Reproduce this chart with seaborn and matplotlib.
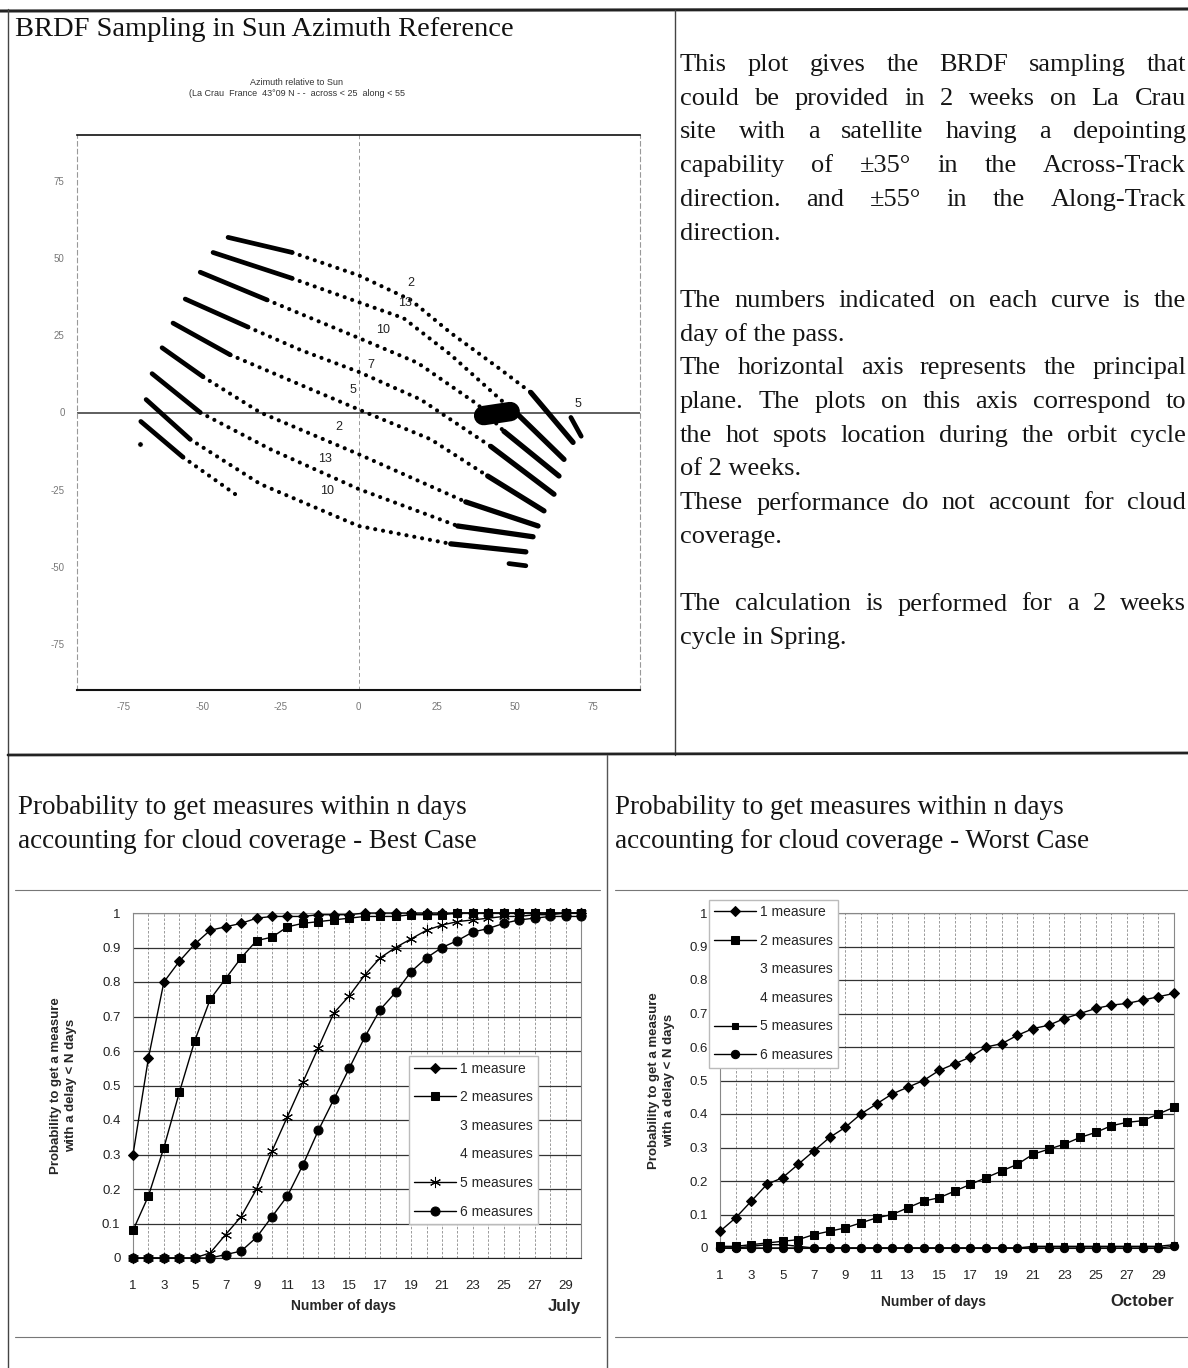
import matplotlib
matplotlib.use("Agg")
import matplotlib.pyplot as plt
import seaborn as sns
from matplotlib.lines import Line2D

W, H = 1188, 1368

# ---------------- BRDF sampling passes (azimuth relative to sun, deg) ----------------
# first two points = thick lead-in, last two = thick tail, points between are dotted
pass_x = [
    [-41.7, -21.2, 0.0, 16.7, 29.5, 45.5, 55.1, 68.6],
    [-46.5, -21.2, 0.0, 14.4, 29.5, 46.5, 50.3, 65.7],
    [-50.6, -29.2, 0.0, 18.9, 38.1, 46.5, 64.1],
    [-55.4, -35.3, -18.6, 0.0, 19.9, 42.3, 62.5],
    [-59.3, -41.0, -18.6, 0.0, 23.1, 41.3, 59.3],
    [-62.8, -49.7, -31.4, 0.0, 34.3, 57.4],
    [-66.0, -50.6, -28.2, 0.0, 31.7, 55.8],
    [-67.9, -53.8, -31.4, 0.0, 29.5, 53.5],
    [-69.6, -56.1, -39.4],
]
pass_y = [
    [56.8, 51.9, 44.5, 36.5, 25.8, 13.9, 6.5, -9.7],
    [51.9, 43.5, 35.8, 30.6, 18.7, 3.2, 0.0, -15.2],
    [45.5, 36.5, 24.2, 16.1, 2.6, -6.1, -20.6],
    [36.8, 27.7, 20.3, 13.2, 4.2, -11.0, -26.5],
    [29.0, 18.7, 9.0, 1.0, -8.7, -20.6, -31.9],
    [21.0, 11.6, 0.0, -13.5, -29.0, -36.8],
    [12.6, 0.0, -11.9, -24.8, -36.8, -40.3],
    [4.2, -8.7, -23.2, -36.8, -42.6, -45.2],
    [-2.9, -14.5, -26.5],
]
pass_has_tail = [True, True, True, True, True, True, True, True, False]

stub_x = [[67.9, 71.2], [48.1, 53.5]]
stub_y = [[-1.6, -7.7], [-49.0, -49.7]]
hotspot_x = [40.0, 48.5]
hotspot_y = [-1.0, 0.3]
lone_x = [-69.9]
lone_y = [-10.3]

day_text = ["2", "13", "10", "7", "5", "5", "2", "13", "10"]
day_x = [16.7, 15.0, 8.0, 3.8, -1.9, 70.2, -6.4, -10.6, -9.9]
day_y = [41.9, 35.5, 26.8, 15.5, 7.4, 2.6, -4.8, -15.2, -25.5]

azi_ticks = [-75, -50, -25, 0, 25, 50, 75]

# ---------------- probability curves ----------------
days = list(range(1, 31))
best_1 = [0.30, 0.58, 0.80, 0.86, 0.91, 0.95, 0.96, 0.97, 0.985, 0.99,
          0.99, 0.99, 0.995, 0.995, 0.995, 1.0, 1.0, 1.0, 1.0, 1.0,
          1.0, 1.0, 1.0, 1.0, 1.0, 1.0, 1.0, 1.0, 1.0, 1.0]
best_2 = [0.08, 0.18, 0.32, 0.48, 0.63, 0.75, 0.81, 0.87, 0.92, 0.93,
          0.96, 0.97, 0.975, 0.98, 0.985, 0.99, 0.99, 0.99, 0.995, 0.995,
          0.995, 1.0, 1.0, 1.0, 1.0, 1.0, 1.0, 1.0, 1.0, 1.0]
best_5 = [0.0, 0.0, 0.0, 0.0, 0.0, 0.015, 0.068, 0.12, 0.20, 0.31,
          0.41, 0.51, 0.61, 0.71, 0.76, 0.82, 0.87, 0.90, 0.925, 0.95,
          0.965, 0.975, 0.98, 0.985, 0.99, 0.99, 0.995, 0.995, 1.0, 1.0]
best_6 = [0.0, 0.0, 0.0, 0.0, 0.0, 0.0, 0.01, 0.02, 0.06, 0.12,
          0.18, 0.27, 0.37, 0.46, 0.55, 0.64, 0.72, 0.77, 0.83, 0.87,
          0.90, 0.92, 0.945, 0.955, 0.97, 0.98, 0.985, 0.99, 0.99, 0.99]

worst_1 = [0.05, 0.09, 0.14, 0.19, 0.21, 0.25, 0.29, 0.33, 0.36, 0.40,
           0.43, 0.46, 0.48, 0.50, 0.53, 0.55, 0.57, 0.60, 0.61, 0.635,
           0.655, 0.665, 0.685, 0.70, 0.715, 0.725, 0.73, 0.74, 0.75, 0.76]
worst_2 = [0.005, 0.005, 0.01, 0.015, 0.02, 0.025, 0.04, 0.05, 0.06, 0.075,
           0.09, 0.10, 0.12, 0.14, 0.15, 0.17, 0.19, 0.21, 0.23, 0.25,
           0.28, 0.295, 0.31, 0.33, 0.345, 0.365, 0.375, 0.38, 0.40, 0.42]
worst_5 = [0.0, 0.0, 0.005, 0.01, 0.01, 0.005, 0.0, 0.0, 0.0, 0.0,
           0.0, 0.0, 0.0, 0.0, 0.0, 0.0, 0.0, 0.0, 0.0, 0.0,
           0.005, 0.005, 0.005, 0.005, 0.005, 0.005, 0.005, 0.005, 0.005, 0.01]
worst_6 = [0.0, 0.0, 0.0, 0.0, 0.0, 0.0, 0.0, 0.0, 0.0, 0.0,
           0.0, 0.0, 0.0, 0.0, 0.0, 0.0, 0.0, 0.0, 0.0, 0.0,
           0.0, 0.0, 0.0, 0.0, 0.0, 0.0, 0.0, 0.0, 0.0, 0.005]

prob_ticks = [0, 0.1, 0.2, 0.3, 0.4, 0.5, 0.6, 0.7, 0.8, 0.9, 1]
prob_labels = ["0", "0.1", "0.2", "0.3", "0.4", "0.5", "0.6", "0.7", "0.8", "0.9", "1"]

# ---------------- page text ----------------
notes = [
    "This plot gives the BRDF sampling that",
    "could be provided in 2 weeks on La Crau",
    "site with a satellite having a depointing",
    "capability of \u00b135\u00b0 in the Across-Track",
    "direction. and \u00b155\u00b0 in the Along-Track",
    "direction.",
    "",
    "The numbers indicated on each curve is the",
    "day of the pass.",
    "The horizontal axis represents the principal",
    "plane. The plots on this axis correspond to",
    "the hot spots location during the orbit cycle",
    "of 2 weeks.",
    "These performance do not account for cloud",
    "coverage.",
    "",
    "The calculation is performed for a 2 weeks",
    "cycle in Spring.",
]
notes_justified = [True, True, True, True, True, False, False, True, False,
                   True, True, True, False, True, False, False, True, False]

sns.set_style("white")
plt.rcParams["font.family"] = ["Liberation Sans", "DejaVu Sans"]
plt.rcParams["axes.unicode_minus"] = False
SERIF = ["Liberation Serif", "DejaVu Serif"]

fig = plt.figure(figsize=(W / 100, H / 100), dpi=100)


def fx(x):
    return x / W


def fy(y):
    return 1 - y / H


def rule(x0, y0, x1, y1, lw=1.0, color="#222222"):
    fig.add_artist(Line2D([fx(x0), fx(x1)], [fy(y0), fy(y1)], lw=lw, color=color,
                          transform=fig.transFigure))


# page frame
rule(0, 11, W, 9, lw=2.2)
rule(8, 9, 8, H, lw=1.0, color="#444444")
rule(675, 10, 675, 755, lw=1.0, color="#444444")
rule(8, 755, W, 753, lw=2.0)
rule(607, 755, 607, H, lw=1.0, color="#555555")
rule(15, 890, 600, 890, lw=0.8, color="#777777")
rule(615, 890, W, 890, lw=0.8, color="#777777")
rule(15, 1337, 600, 1337, lw=0.8, color="#777777")
rule(615, 1337, W, 1337, lw=0.8, color="#777777")

fig.text(fx(15), fy(30), "BRDF Sampling in Sun Azimuth Reference", family=SERIF,
         fontsize=20.5, va="center", ha="left", color="#111111")

renderer = fig.canvas.get_renderer()
for i, (line, just) in enumerate(zip(notes, notes_justified)):
    if not line:
        continue
    y = 65 + i * 33.7
    kw = dict(family=SERIF, fontsize=19, va="center", ha="left", color="#151515")
    if not just:
        fig.text(fx(680), fy(y), line, **kw)
        continue
    words = line.split()
    arts = [fig.text(0, fy(y), w, **kw) for w in words]
    widths = [a.get_window_extent(renderer).width for a in arts]
    gap = max((1186 - 680 - sum(widths)) / (len(words) - 1), 4)
    x = 680
    for a, w in zip(arts, widths):
        a.set_x(fx(x))
        x += w + gap

for x0, side in [(18, "Best Case"), (615, "Worst Case")]:
    fig.text(fx(x0), fy(808), "Probability to get measures within n days", family=SERIF,
             fontsize=19.5, va="center", ha="left", color="#151515")
    fig.text(fx(x0), fy(842), f"accounting for cloud coverage - {side}", family=SERIF,
             fontsize=19.5, va="center", ha="left", color="#151515")

# ---------------- BRDF panel ----------------
ax = fig.add_axes([fx(77), fy(690), (640 - 77) / W, (690 - 135) / H])
ax.set_xlim(-90, 90)
ax.set_ylim(-90, 90)
ax.axvline(0, color="#999999", lw=0.7, ls=(0, (4, 3)))
ax.axhline(0, color="#333333", lw=1.1)
for xs, ys, tail in zip(pass_x, pass_y, pass_has_tail):
    sns.lineplot(x=xs[:2], y=ys[:2], sort=False, estimator=None, color="k", lw=3.4,
                 solid_capstyle="round", ax=ax)
    mid_end = len(xs) - 1 if tail else len(xs)
    sns.lineplot(x=xs[1:mid_end], y=ys[1:mid_end], sort=False, estimator=None, color="k",
                 lw=3.0, linestyle=(0, (0.01, 1.9)), dash_capstyle="round", ax=ax)
    if tail:
        sns.lineplot(x=xs[-2:], y=ys[-2:], sort=False, estimator=None, color="k", lw=3.8,
                     solid_capstyle="round", ax=ax)
for xs, ys in zip(stub_x, stub_y):
    sns.lineplot(x=xs, y=ys, sort=False, estimator=None, color="k", lw=3.4,
                 solid_capstyle="round", ax=ax)
sns.lineplot(x=hotspot_x, y=hotspot_y, sort=False, estimator=None, color="k", lw=14,
             solid_capstyle="round", ax=ax)
sns.scatterplot(x=lone_x, y=lone_y, color="k", s=14, ax=ax)
for t, x, y in zip(day_text, day_x, day_y):
    ax.text(x, y, t, fontsize=9, ha="center", va="center", color="#222222")
ax.set_xticks(azi_ticks)
ax.set_yticks(azi_ticks)
ax.tick_params(labelsize=7, colors="#777777", length=3, width=0.6, direction="out", pad=6)
for s in ("left", "right"):
    ax.spines[s].set_color("#999999")
    ax.spines[s].set_linestyle((0, (4, 3)))
    ax.spines[s].set_linewidth(0.8)
ax.spines["top"].set_color("#111111")
ax.spines["top"].set_linewidth(1.2)
ax.spines["bottom"].set_color("#111111")
ax.spines["bottom"].set_linewidth(1.5)
ax.text(0.39, 1.095, "Azimuth relative to Sun", transform=ax.transAxes, fontsize=6.5,
        ha="center", va="center", color="#333333")
ax.text(0.39, 1.075, "(La Crau  France  43\u00b009 N - -  across < 25  along < 55",
        transform=ax.transAxes, fontsize=6.5, ha="center", va="center", color="#333333")
ax.set_xlabel("")
ax.set_ylabel("")


# ---------------- probability panels ----------------
def prob_panel(rect, series, markers, sizes, month, legend_anchor, ylab_x, xlab_y):
    a = fig.add_axes(rect)
    a.set_xlim(1, 30)
    a.set_ylim(0, 1)
    a.set_xticks(days)
    a.set_xticklabels([str(d) if d % 2 else "" for d in days])
    a.set_yticks(prob_ticks)
    a.set_yticklabels(prob_labels)
    for d in days:
        a.axvline(d, color="#8a8a8a", lw=0.6, ls=(0, (3, 2)), zorder=0)
    for t in prob_ticks:
        a.axhline(t, color="#333333", lw=0.9, zorder=0)
    for (label, ys), m, ms in zip(series, markers, sizes):
        if ys is None:
            continue
        sns.lineplot(x=days, y=ys, color="k", lw=1.0, marker=m, markersize=ms,
                     markeredgecolor="k", markerfacecolor="k", clip_on=False,
                     label=label, ax=a, zorder=3)
    handles, labels = a.get_legend_handles_labels()
    lookup = dict(zip(labels, handles))
    order = []
    for label, ys in series:
        if label in lookup:
            order.append(lookup[label])
        else:
            order.append(Line2D([], [], color="none", label=label))
    a.legend(handles=order, labels=[s[0] for s in series], loc="upper left",
             bbox_to_anchor=legend_anchor, fontsize=10, frameon=True, fancybox=False,
             edgecolor="#bbbbbb", framealpha=1, labelspacing=1.05, handlelength=3.0,
             borderpad=0.4, borderaxespad=0, handletextpad=0.3)
    a.tick_params(length=0, labelsize=9.5, colors="#222222")
    a.tick_params(axis="x", pad=16)
    a.tick_params(axis="y", pad=9)
    for s in a.spines.values():
        s.set_color("#888888")
        s.set_linewidth(0.8)
    a.spines["bottom"].set_color("#222222")
    a.set_xlabel("")
    a.set_ylabel("Probability to get a measure\nwith a delay < N days", fontsize=9.5,
                 fontweight="bold", linespacing=1.3)
    a.yaxis.set_label_coords(ylab_x, 0.5)
    a.text(0.47, xlab_y, "Number of days", transform=a.transAxes, fontsize=10,
           fontweight="bold", ha="center", va="center")
    a.text(1.0, xlab_y, month, transform=a.transAxes, fontsize=12,
           fontweight="bold", ha="right", va="center")
    return a


prob_panel([fx(133), fy(1258), (581 - 133) / W, (1258 - 913) / H],
           [("1 measure", best_1), ("2 measures", best_2), ("3 measures", None),
            ("4 measures", None), ("5 measures", best_5), ("6 measures", best_6)],
           ["D", "s", None, None, (6, 2, 0), "o"], [5, 6, 0, 0, 8, 6.5],
           "July", (0.615, 0.585), -0.125, -0.14)
prob_panel([fx(720), fy(1248), (1174 - 720) / W, (1248 - 913) / H],
           [("1 measure", worst_1), ("2 measures", worst_2), ("3 measures", None),
            ("4 measures", None), ("5 measures", worst_5), ("6 measures", worst_6)],
           ["D", "s", None, None, "s", "o"], [5, 6, 0, 0, 4, 6],
           "October", (-0.025, 1.04), -0.10, -0.16)

fig.savefig("out.png", dpi=100, facecolor="white")
